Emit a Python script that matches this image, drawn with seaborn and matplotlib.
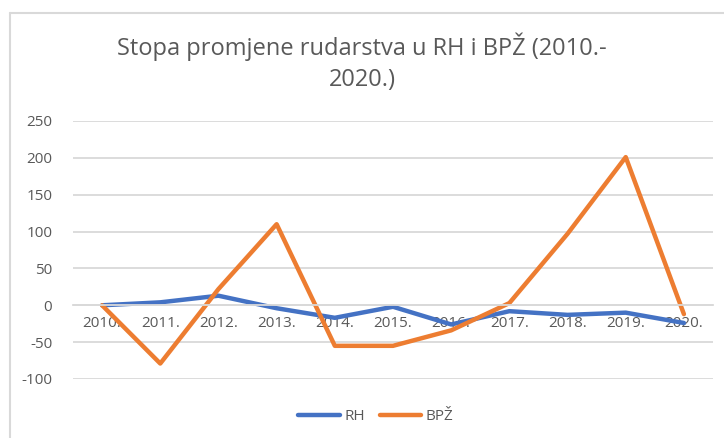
import matplotlib
matplotlib.use("Agg")
import matplotlib.pyplot as plt
import pandas as pd
import seaborn as sns
from matplotlib.lines import Line2D

# Data
years = ["2010.", "2011.", "2012.", "2013.", "2014.", "2015.",
         "2016.", "2017.", "2018.", "2019.", "2020."]
rh = [0, 4, 13, -4, -17, -2, -26, -8, -13, -10, -24]
bpz = [0, -79, 22, 110, -55, -55, -34, 3, 97, 201, -12]
series_names = ["RH", "BPŽ"]
y_ticks = [-100, -50, 0, 50, 100, 150, 200, 250]

colors = ["#4472C4", "#ED7D31"]
text_color = "#595959"
grid_color = "#D9D9D9"

sns.set_theme(style="white")
plt.rcParams["font.family"] = ["Open Sans", "DejaVu Sans"]

df = pd.DataFrame({"year": years * 2,
                   "value": rh + bpz,
                   "series": [series_names[0]] * len(years) + [series_names[1]] * len(years)})
df["x"] = list(range(len(years))) * 2

fig = plt.figure(figsize=(7.24, 4.38), dpi=100)
ax = fig.add_axes([73 / 724, 1 - 379 / 438, 640 / 724, 258 / 438])

sns.lineplot(data=df, x="x", y="value", hue="series", palette=colors,
             linewidth=3.2, ax=ax, legend=False, sort=False)

ax.set_xlim(-0.5, len(years) - 0.5)
ax.set_ylim(-100, 250)
ax.set_yticks(y_ticks)
ax.set_yticklabels([str(v) for v in y_ticks], fontsize=11, color=text_color)
ax.yaxis.grid(True, color=grid_color, linewidth=1.3)
ax.set_axisbelow(True)

# category labels sit just under the zero line
ax.spines["bottom"].set_position(("data", 0))
ax.spines["bottom"].set_color(grid_color)
ax.spines["bottom"].set_linewidth(1.3)
for s in ["left", "right", "top"]:
    ax.spines[s].set_visible(False)
ax.set_xticks(range(len(years)))
ax.set_xticklabels(years, fontsize=11, color=text_color)
ax.tick_params(axis="x", length=0, pad=8)
ax.tick_params(axis="y", length=0, pad=15)
ax.set_xlabel("")
ax.set_ylabel("")

fig.text(0.5, 1 - 47 / 438, "Stopa promjene rudarstva u RH i BPŽ (2010.-",
         ha="center", va="center", fontsize=17, color=text_color)
fig.text(0.5, 1 - 80 / 438, "2020.)", ha="center", va="center",
         fontsize=17, color=text_color)

handles = [Line2D([0], [0], color=c, linewidth=3.2, solid_capstyle="round") for c in colors]
fig.legend(handles, series_names, loc="center", bbox_to_anchor=(376 / 724, 1 - 417 / 438),
           ncol=2, frameon=False, fontsize=11, labelcolor=text_color,
           handlelength=2.7, columnspacing=1.0, handletextpad=0.3)

# chart border (left and top edges visible)
fig.add_artist(Line2D([10 / 724, 10 / 724], [0, 1 - 13 / 438],
                      transform=fig.transFigure, color=grid_color, linewidth=1.5))
fig.add_artist(Line2D([10 / 724, 1], [1 - 13 / 438, 1 - 13 / 438],
                      transform=fig.transFigure, color=grid_color, linewidth=1.5))

fig.savefig("out.png", dpi=100)
